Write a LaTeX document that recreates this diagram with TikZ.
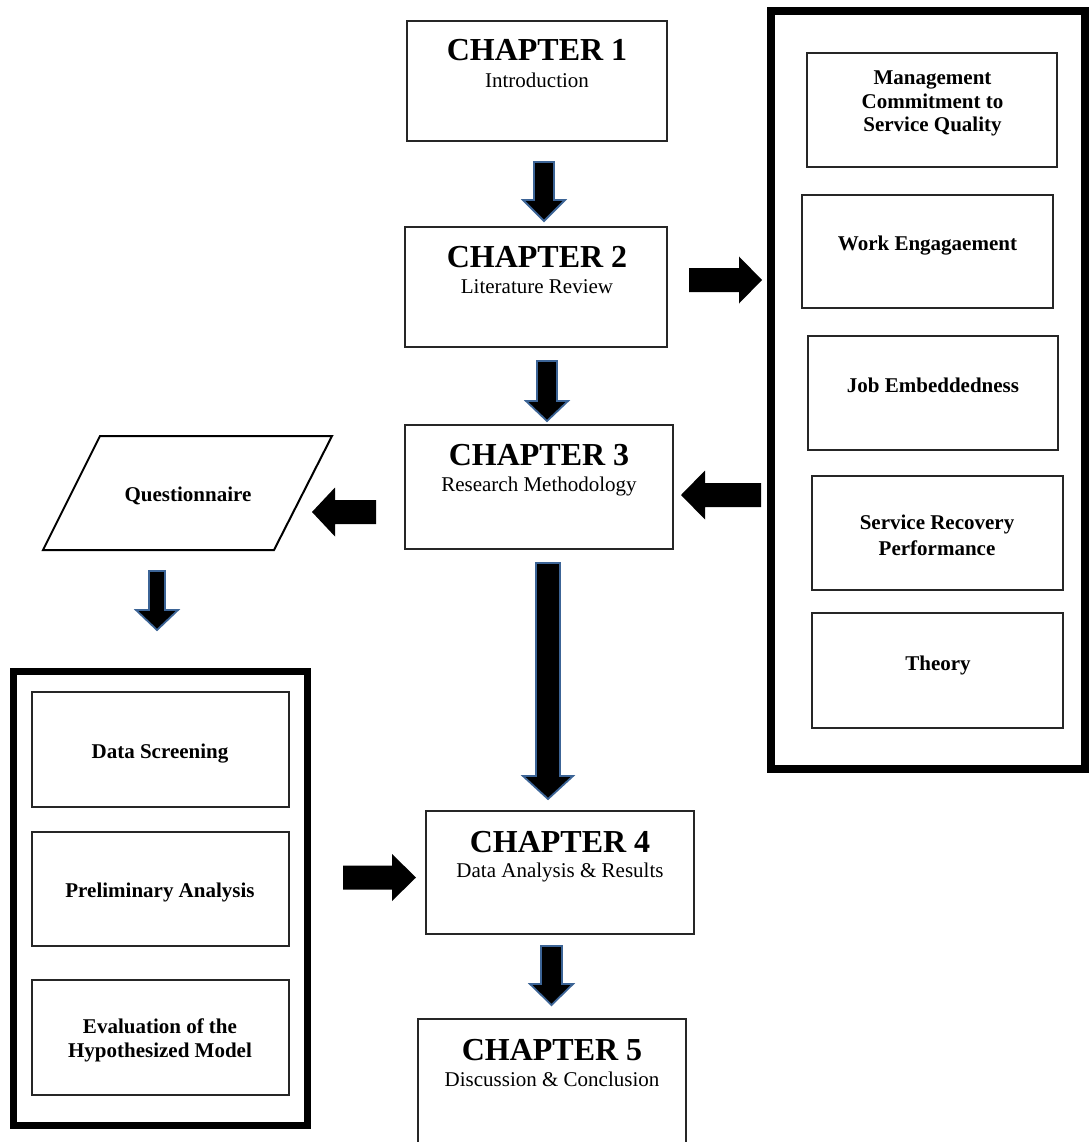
\documentclass[tikz,border=0pt]{standalone}
\usepackage{fontspec}
\setmainfont{Liberation Serif}
\usetikzlibrary{calc}
\definecolor{arrowblue}{HTML}{3C6496}
\tikzset{
  chbox/.style={draw=black!85, line width=1.4pt, fill=white, inner sep=0, outer sep=0},
  ibox/.style={draw=black!85, line width=1.7pt, inner sep=0, outer sep=0},
  bigframe/.style={draw=black, line width=7.5pt},
  headtxt/.style={font=\fontsize{32}{36}\selectfont\bfseries, anchor=base, inner sep=0},
  subtxt/.style={font=\fontsize{21}{24}\selectfont, anchor=base, inner sep=0},
  btxt/.style={font=\fontsize{21}{24}\selectfont\bfseries, align=center, inner sep=0},
  varrow/.style={fill=black, draw=arrowblue, line width=1.8pt, line join=miter},
  harrow/.style={fill=black, draw=none},
}
% vertical block arrow: cx, top, head start, tip, shaft half width, head half width
\newcommand\myvarr[6]{%
  \draw[varrow] (#1-#5,#2) -- (#1+#5,#2) -- (#1+#5,#3) -- (#1+#6,#3) -- (#1,#4)
    -- (#1-#6,#3) -- (#1-#5,#3) -- cycle;}
% horizontal block arrow: cy, tail x, head base x, tip x, shaft half, head half
\newcommand\myharr[6]{%
  \fill[harrow] (#2,#1-#5) -- (#3,#1-#5) -- (#3,#1-#6) -- (#4,#1) -- (#3,#1+#6)
    -- (#3,#1+#5) -- (#2,#1+#5) -- cycle;}
\begin{document}
\begin{tikzpicture}[x=1pt,y=-1pt]
\useasboundingbox (0,0) rectangle (1089,1142);
\clip (0,0) rectangle (1089,1142);
\fill[white] (0,0) rectangle (1089,1142);

% Chapter boxes
\node[chbox, minimum width=260, minimum height=120] (ch1) at (537,81) {};
\node[headtxt] (ch1h) at (537,61) {CHAPTER 1};
\node[subtxt] (ch1s) at (537,88) {Introduction};

\node[chbox, minimum width=262, minimum height=120] (ch2) at (536,287) {};
\node[headtxt] (ch2h) at (537,267) {CHAPTER 2};
\node[subtxt] (ch2s) at (537,293) {Literature Review};

\node[chbox, minimum width=268, minimum height=124] (ch3) at (539,487) {};
\node[headtxt] (ch3h) at (539,465) {CHAPTER 3};
\node[subtxt] (ch3s) at (539,491) {Research Methodology};

\node[chbox, minimum width=268, minimum height=123] (ch4) at (560,872.5) {};
\node[headtxt] (ch4h) at (560,852) {CHAPTER 4};
\node[subtxt] (ch4s) at (560,877) {Data Analysis \& Results};

\node[chbox, minimum width=268, minimum height=160] (ch5) at (552,1099) {};
\node[headtxt] (ch5h) at (552,1060) {CHAPTER 5};
\node[subtxt] (ch5s) at (552,1086) {Discussion \& Conclusion};

% Right frame
\draw[bigframe] (771,11) rectangle (1085,769);
\node[ibox, minimum width=250, minimum height=114] (mcsq) at (932,110) {};
\node[btxt, font=\fontsize{21}{23.5}\selectfont\bfseries] (mcsqt) at (932.5,103.8) {Management\\Commitment to\\Service Quality};
\node[ibox, minimum width=251, minimum height=113] (we) at (927.5,251.5) {};
\node[btxt, anchor=base] (wet) at (927.5,250) {Work Engagaement};
\node[ibox, minimum width=250, minimum height=114] (je) at (933,393) {};
\node[btxt, anchor=base] (jet) at (933,392) {Job Embeddedness};
\node[ibox, minimum width=251, minimum height=114] (srp) at (937.5,533) {};
\node[btxt, font=\fontsize{21}{25.7}\selectfont\bfseries] (srpt) at (937,535.2) {Service Recovery\\Performance};
\node[ibox, minimum width=251, minimum height=115] (th) at (937.5,670.5) {};
\node[btxt, anchor=base] (tht) at (938,670) {Theory};

% Questionnaire parallelogram
\draw[black, line width=2pt, line join=miter] (100,436) -- (332,436) -- (274,550) -- (43,550) -- cycle;
\node[btxt, anchor=base] (q) at (188,501.7) {Questionnaire};

% Left frame
\draw[bigframe, line width=7pt] (13.5,671) rectangle (307.5,1125.5);
\node[ibox, minimum width=257, minimum height=115] (ds) at (160.5,749.5) {};
\node[btxt, anchor=base] (dst) at (160,758) {Data Screening};
\node[ibox, minimum width=257, minimum height=114] (pa) at (160.5,889) {};
\node[btxt, anchor=base] (pat) at (160,897) {Preliminary Analysis};
\node[ibox, minimum width=257, minimum height=115] (ev) at (160.5,1037.5) {};
\node[btxt] (evt) at (160,1040) {Evaluation of the\\Hypothesized Model};

% Vertical arrows
\myvarr{544}{162}{200}{221}{10}{21}
\myvarr{547}{361}{401}{421}{10}{21}
\myvarr{548}{563}{776}{799}{12}{25}
\myvarr{551.5}{946}{984}{1005}{10.5}{21.5}
\myvarr{157}{571}{610}{630}{8}{21}

% Horizontal arrows
\myharr{280}{689}{739}{762}{12}{23.5}
\myharr{495}{761}{705}{681}{12}{24.5}
\myharr{512}{376}{335}{312}{12}{24.5}
\myharr{877.5}{343}{392}{416}{12}{23.5}
\end{tikzpicture}
\end{document}
